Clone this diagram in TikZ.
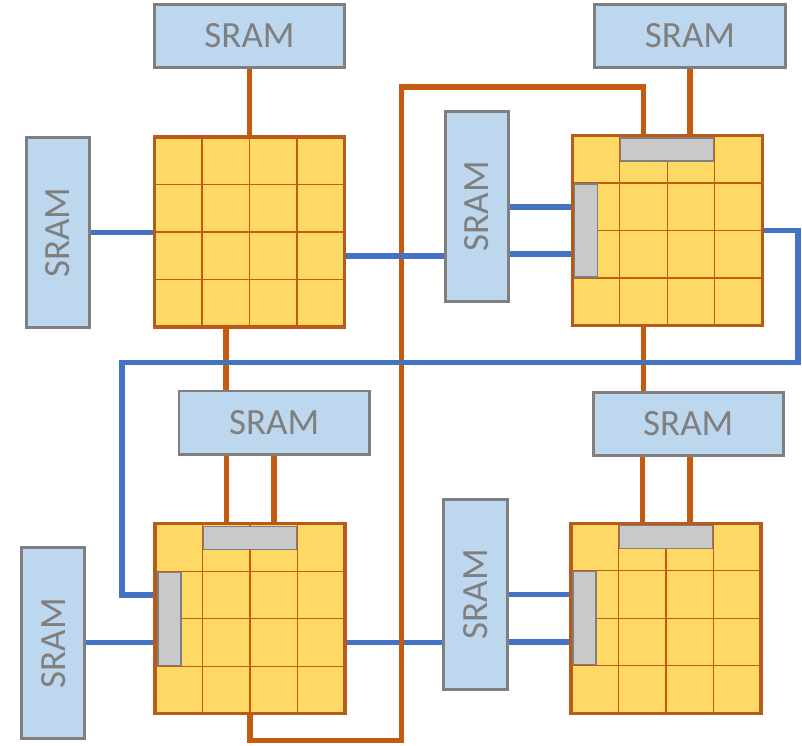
\documentclass[tikz,border=0pt]{standalone}
\usepackage{fontspec}
\setmainfont{Carlito}
\usepackage{graphicx}
\usetikzlibrary{calc,backgrounds}

\definecolor{sramfill}{HTML}{BDD7EE}
\definecolor{frame}{HTML}{7F7F7F}
\definecolor{corefill}{HTML}{FFD966}
\definecolor{coreline}{HTML}{C55A11}
\definecolor{coreedge}{HTML}{BA5A18}
\definecolor{barfill}{HTML}{C9C9C9}
\definecolor{busblue}{HTML}{4472C4}

\newcommand{\uplabel}{\rotatebox{90}{SRAM}}

\begin{document}
\begin{tikzpicture}[x=1pt,y=-1pt,
  sramh/.style={draw=frame, line width=2.8pt, fill=sramfill, inner sep=0pt,
    minimum width=190.3pt, minimum height=63.3pt, text=frame,
    font=\fontsize{37}{40}\selectfont},
  sramv/.style={sramh, minimum width=63.3pt, minimum height=190.3pt},
  core/.style={draw=coreedge, line width=3.4pt, fill=corefill, inner sep=0pt,
    minimum size=190pt,
    path picture={
      \foreach \f in {0.25,0.5,0.75}{
        \draw[coreline, line width=1.1pt]
          ($(path picture bounding box.north west)!\f!(path picture bounding box.north east)$) --
          ($(path picture bounding box.south west)!\f!(path picture bounding box.south east)$);
        \draw[coreline, line width=1.1pt]
          ($(path picture bounding box.north west)!\f!(path picture bounding box.south west)$) --
          ($(path picture bounding box.north east)!\f!(path picture bounding box.south east)$);
      }}},
  barh/.style={draw=frame, fill=barfill, line width=1.3pt, inner sep=0pt,
    minimum width=93pt, minimum height=23pt},
  barv/.style={barh, minimum width=23pt, minimum height=93pt},
  wire/.style={draw=coreline, line width=5.6pt, line join=miter},
  bus/.style={draw=busblue, line width=5.6pt, line join=miter}]

\useasboundingbox (0,0) rectangle (802,745);

% compute cores
\node[core] (c1) at (249.5,232) {};
\node[core] (c2) at (667.3,230.5) {};
\node[core] (c3) at (250,618.7) {};
\node[core] (c4) at (666,618.3) {};

% buffer strips on three of the cores
\node[barh] (b2h) at ($(c2)+(0,-81)$) {};
\node[barv] (b2v) at ($(c2)+(-81,0)$) {};
\node[barh] (b3h) at ($(c3)+(0,-81)$) {};
\node[barv] (b3v) at ($(c3)+(-80.5,0)$) {};
\node[barh] (b4h) at ($(c4)+(0,-81)$) {};
\node[barv] (b4v) at ($(c4)+(-81.5,0)$) {};

% memory blocks
\node[sramh] (s1) at (249.5,36) {SRAM};
\node[sramh] (s2) at (690,36) {SRAM};
\node[sramv] (s3) at (58,232.5) {\uplabel};
\node[sramv] (s4) at (477,206.3) {\uplabel};
\node[sramh] (s5) at (274.2,422.7) {SRAM};
\node[sramh] (s6) at (688.3,423.8) {SRAM};
\node[sramv] (s7) at (53.2,643) {\uplabel};
\node[sramv] (s8) at (475.5,594.3) {\uplabel};

% ports on the core edges
\coordinate (c1s)  at ([xshift=-23.7pt]c1.south);
\coordinate (c1e)  at ([yshift=-23.7pt]c1.east);
\coordinate (c2n)  at ([xshift=-23.7pt]c2.north);
\coordinate (c2s)  at ([xshift=-23.7pt]c2.south);
\coordinate (c2w1) at ([yshift=23.7pt]c2.west);
\coordinate (c2w2) at ([yshift=-23.7pt]c2.west);
\coordinate (c3n1) at ([xshift=-23.7pt]c3.north);
\coordinate (c3n2) at ([xshift=23.7pt]c3.north);
\coordinate (c3w1) at ([yshift=24pt]c3.west);
\coordinate (c3w2) at ([yshift=-23.7pt]c3.west);
\coordinate (c3e)  at ([yshift=-23.7pt]c3.east);
\coordinate (c4n1) at ([xshift=-23.7pt]c4.north);
\coordinate (c4n2) at ([xshift=23.7pt]c4.north);
\coordinate (c4w1) at ([yshift=23.7pt]c4.west);
\coordinate (c4w2) at ([yshift=-23.7pt]c4.west);

% routing corners
\coordinate (busN) at (401.5,86.7);
\coordinate (busS) at (401.5,740.5);
\coordinate (ringE) at (797.7,362.3);
\coordinate (ringW) at (121.7,362.3);

\begin{scope}[on background layer]
  % lower link runs beneath the vertical bus
  \draw[bus] (c3e) -- (c3e -| s8.west);

  % memory-to-core links
  \draw[wire] (s1.south) -- (c1.north);
  \draw[wire] (s2.south) -- (s2.south |- c2.north);
  \draw[wire] (c1s) -- (c1s |- s5.north);
  \draw[wire] (c3n1 |- s5.south) -- (c3n1);
  \draw[wire] (c3n2 |- s5.south) -- (c3n2);
  \draw[wire] (c2s) -- (c2s |- s6.north);
  \draw[wire] (c4n1 |- s6.south) -- (c4n1);
  \draw[wire] (c4n2 |- s6.south) -- (c4n2);

  % long link from the upper-right core to the lower-left core
  \draw[wire] (c2n) |- (busN) -- (busS) -| (c3.south);

  % side links
  \draw[bus] (s3.east) -- (s3.east -| c1.west);
  \draw[bus] (c1e) -- (c1e -| s4.west);
  \draw[bus] (s4.east |- c2w1) -- (c2w1);
  \draw[bus] (s4.east |- c2w2) -- (c2w2);
  \draw[bus] (s7.east |- c3w2) -- (c3w2);
  \draw[bus] (s8.east |- c4w1) -- (c4w1);
  \draw[bus] (s8.east |- c4w2) -- (c4w2);

  % ring from the upper-right core round to the lower-left core
  \draw[bus] (c2.east) -| (ringE) -- (ringW) |- (c3w1);
\end{scope}

\end{tikzpicture}
\end{document}
